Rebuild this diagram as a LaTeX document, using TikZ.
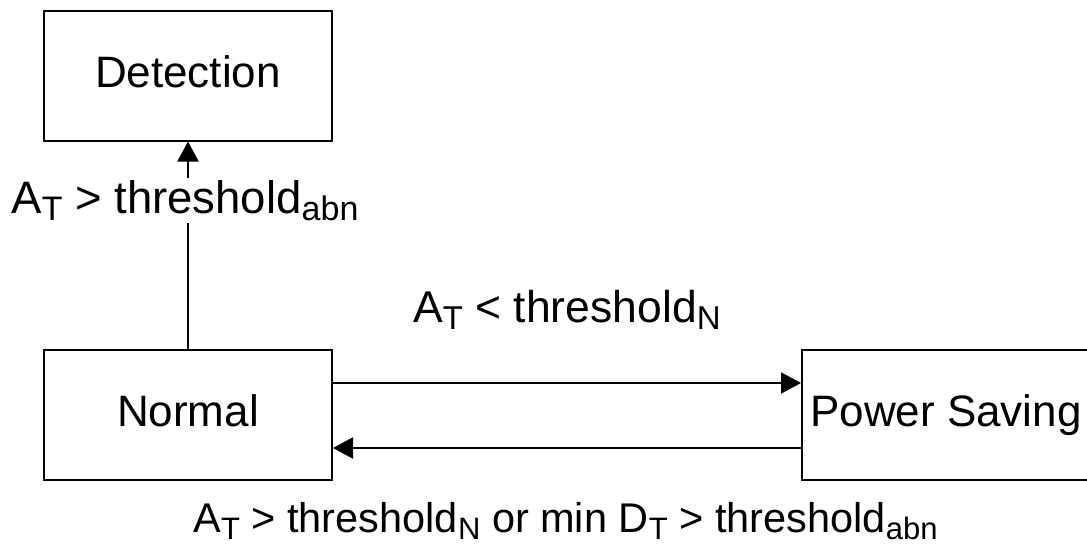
\documentclass[tikz,border=0pt]{standalone}
\usepackage{fontspec}
\setmainfont{Liberation Sans}
\usetikzlibrary{arrows.meta,calc}
\newcommand\sbs[2][33]{\raisebox{-7pt}{\fontsize{#1}{#1}\selectfont #2}}
\begin{document}
\begin{tikzpicture}[x=1pt,y=-1pt,
  box/.style={draw=black,line width=2pt,minimum width=288pt,minimum height=130pt,inner sep=0pt,text height=32pt,text depth=9pt,font=\fontsize{44}{44}\selectfont},
  arr/.style={line width=2pt,-{Triangle[length=20pt,width=21pt]}},
  lbl/.style={inner sep=2pt}]
\path[use as bounding box] (0,0) rectangle (1087,544);
\clip (0,0) rectangle (1087,544);
\node[box] (det) at (188,75.5) {Detection};
\node[box] (norm) at (188,414.5) {Normal};
\node[box] (ps) at (946,414.5) {Power Saving};
\draw[arr] (norm.north) -- node[lbl,fill=white,pos=0.715,xshift=-3pt,font=\fontsize{45.5}{45.5}\selectfont] (l1) {A\sbs[34]{T} > threshold\sbs[34]{abn}} (det.south);
\draw[arr] ([yshift=31.5pt]norm.east) -- node[lbl,anchor=base,yshift=61pt,font=\fontsize{44.5}{44.5}\selectfont] (l2) {A\sbs{T} < threshold\sbs{N}} ([yshift=31.5pt]ps.west);
\draw[arr] ([yshift=-33.5pt]ps.west) -- node[lbl,anchor=base,yshift=-84pt,xshift=-1.5pt,font=\fontsize{41.5}{41.5}\selectfont] (l3) {A\sbs[31]{T} > threshold\sbs[31]{N} or min D\sbs[31]{T} > threshold\sbs[31]{abn}} ([yshift=-33.5pt]norm.east);
\end{tikzpicture}
\end{document}
